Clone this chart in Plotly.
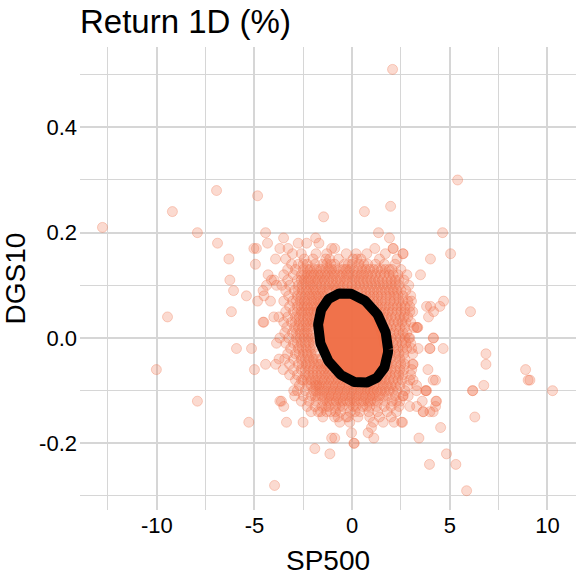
import numpy as np
import plotly.graph_objects as go

# scattered days (SP500 % vs DGS10 change)
sp500_out = [-12.78, -9.20, -6.94, -4.84, -7.92, -6.89, -4.43, -4.33, -5.03, -4.90,
             -6.31, -4.95, -3.92, -3.70, -6.26, -6.07, -5.41, -4.84, -4.30, -4.13,
             -3.99, -4.38, -4.56, -4.51, -4.18, -3.87, -6.18, -9.45, -4.56, -4.52,
             -4.01, -5.92, -5.15, -3.87, -10.02, -5.00, -4.43, -3.91, -3.74, -7.92,
             -3.70, -5.29, -3.97,
             5.40, 4.63, 2.60, 4.01, 5.04, 3.50, 3.04, 4.68, 4.01, 4.17,
             3.91, 6.06, 2.95, 3.33, 3.36, 4.17, 2.95,
             3.98, 3.38, 6.85, 6.85, 8.88, 9.01, 9.10, 10.26, 6.74, 6.16,
             6.18, 3.88, 4.27, 3.76, 3.78, 3.59, 4.32, 4.27, 4.15, 3.64,
             2.95, 6.28, 4.53, 3.42, 2.58, 4.83, 3.96, 5.31, 5.86, 3.12,
             2.07, -1.46, 0.63, 1.97, 1.35, 1.91, -3.51, -1.87, -1.70, -2.76,
             -2.33, -3.28, -1.05, -0.89, 1.16, 2.10,
             -1.91, -1.14, 0.09, 0.11, -1.05, -0.89, -0.03, 0.82, 0.99, 1.11,
             -3.36, -2.51, -3.62, -3.50, -2.99, -2.94, -3.53, -2.59, -1.82,
             1.08, 1.59, 2.15, 2.53, -0.63, -0.12, -1.74, -1.31, -0.72, -0.20,
             2.27, 3.30, 2.27, 2.61, 2.87, 3.12, 3.30, 4.29, 3.98, 3.64,
             3.81, 3.30, 4.15, 3.98, 4.66, 3.30, 4.15, 3.81, 4.49, 2.61, 2.10]
dgs10_out = [0.21, 0.24, 0.28, 0.27, 0.20, 0.18, 0.20, 0.18, 0.17, 0.17,
             0.15, 0.14, 0.15, 0.17, 0.11, 0.09, 0.08, 0.07, 0.12, 0.11,
             0.11, 0.10, 0.09, 0.08, 0.07, 0.10, 0.05, 0.04, 0.03, 0.03,
             0.04, -0.02, -0.02, -0.01, -0.06, -0.06, -0.05, -0.05, -0.04, -0.12,
             -0.12, -0.16, -0.28,
             0.30, 0.20, 0.16, 0.15, 0.16, 0.12, 0.07, 0.07, 0.06, 0.05,
             0.04, 0.05, 0.05, 0.02, 0.02, 0.00, 0.00,
             -0.02, -0.02, -0.03, -0.05, -0.06, -0.08, -0.08, -0.10, -0.09, -0.10,
             -0.10, -0.06, -0.08, -0.10, -0.10, -0.12, -0.12, -0.13, -0.14, -0.14,
             -0.13, -0.15, -0.17, -0.19, -0.16, -0.22, -0.24, -0.24, -0.29, -0.05,
             0.51, 0.23, 0.24, 0.25, 0.20, 0.19, 0.19, 0.19, 0.18, 0.18,
             0.18, 0.17, 0.17, 0.17, 0.17, 0.17,
             -0.21, -0.22, -0.20, -0.20, -0.19, -0.19, -0.18, -0.18, -0.17, -0.19,
             -0.16, -0.16, -0.12, -0.13, -0.10, -0.11, -0.06, -0.08, -0.09,
             -0.16, -0.16, -0.16, -0.16, -0.16, -0.16, -0.14, -0.14, -0.15, -0.15,
             -0.14, -0.13, -0.12, -0.11, -0.11, -0.08, -0.09, -0.12, -0.14, -0.14,
             -0.10, -0.10, -0.08, -0.02, -0.02, 0.02, 0.00, 0.06, 0.06, 0.16, 0.17]

# dense core: DGS10 moves in 0.01 steps, so SP500 values are listed per row
core_dgs10 = [0.16, 0.15, 0.14, 0.13, 0.12, 0.11, 0.10, 0.09, 0.08, 0.07,
              0.06, 0.05, 0.04, 0.03, 0.02, 0.01, 0.00, -0.01, -0.02, -0.03,
              -0.04, -0.05, -0.06, -0.07, -0.08, -0.09, -0.10, -0.11, -0.12, -0.13,
              -0.14, -0.15]
core_sp500_a = [
    [-3.05, -2.6, -1.85, -1.3, -0.3, 0.2, 0.75, 1.7],
    [-3.4, -2.45, -2.0, -1.15, -0.7, 0.05, 0.45, 1.4, 2.3],
    [-3.1, -2.75, -2.3, -1.9, -1.5, -1.1, -0.4, 0.0, 0.35, 0.8, 1.2, 1.65, 2.2],
    [-3.3, -2.9, -2.5, -2.15, -1.8, -1.4, -1.05, -0.65, -0.3, 0.1, 0.5, 0.9, 1.3, 1.7, 2.05, 2.5],
    [-3.5, -3.0, -2.6, -2.3, -1.95, -1.6, -1.25, -0.9, -0.5, -0.15, 0.25, 0.6, 1.0, 1.45, 1.9, 2.35, 2.8],
    [-3.3, -2.8, -2.45, -2.1, -1.75, -1.4, -1.0, -0.6, -0.25, 0.15, 0.55, 0.95, 1.35, 1.8, 2.2, 2.65],
    [-3.6, -3.2, -2.75, -2.35, -2.0, -1.6, -1.2, -0.85, -0.45, 0.0, 0.4, 0.8, 1.2, 1.6, 2.0, 2.4, 2.9],
    [-3.4, -2.95, -2.55, -2.2, -1.85, -1.5, -1.15, -0.8, -0.4, -0.05, 0.3, 0.7, 1.1, 1.5, 1.9, 2.3, 2.75],
    [-3.25, -2.8, -2.4, -2.05, -1.7, -1.35, 0.5, 0.9, 1.3, 1.75, 2.15, 2.6, 3.0],
    [-3.5, -3.05, -2.65, -2.3, -1.95, -1.6, 0.7, 1.1, 1.5, 1.95, 2.4, 2.85],
    [-3.2, -2.8, -2.45, -2.1, -1.8, 0.9, 1.3, 1.7, 2.1, 2.5, 2.95],
    [-3.4, -3.0, -2.6, -2.25, -1.95, 1.05, 1.45, 1.85, 2.3, 2.7, 3.1],
    [-3.75, -3.3, -2.9, -2.5, -2.15, 1.2, 1.6, 2.0, 2.45, 2.85],
    [-3.5, -3.1, -2.7, -2.35, -2.0, 1.3, 1.7, 2.15, 2.55, 3.0],
    [-3.35, -2.95, -2.55, -2.2, 1.4, 1.8, 2.25, 2.7, 3.15],
    [-3.45, -3.05, -2.65, -2.3, 1.5, 1.95, 2.4, 2.8],
    [-3.7, -3.25, -2.85, -2.45, -2.1, 1.6, 2.0, 2.45, 2.9],
    [-3.4, -3.0, -2.6, -2.2, 1.65, 2.1, 2.55, 3.0],
    [-3.15, -2.75, -2.35, -2.0, 1.7, 2.15, 2.6, 3.05],
    [-3.3, -2.9, -2.5, -2.1, 1.75, 2.2, 2.65, 3.1],
    [-3.45, -3.0, -2.6, -2.2, -1.85, 1.75, 2.2, 2.7],
    [-3.2, -2.75, -2.35, -1.95, -1.6, -1.3, 1.8, 2.25, 2.7, 3.1],
    [-3.0, -2.6, -2.2, -1.8, -1.45, -1.1, 1.8, 2.2, 2.65, 3.05],
    [-3.2, -2.8, -2.4, -2.0, -1.6, -1.25, -0.85, 1.75, 2.2, 2.6, 3.0],
    [-2.9, -2.5, -2.1, -1.75, -1.4, -1.05, -0.7, -0.35, 1.3, 1.7, 2.1, 2.55, 2.95],
    [-2.7, -2.3, -1.9, -1.55, -1.2, -0.85, -0.5, -0.15, 0.2, 0.55, 0.9, 1.25, 1.6, 2.0, 2.45, 2.85],
    [-2.8, -2.4, -2.0, -1.65, -1.3, -0.95, -0.6, -0.25, 0.1, 0.45, 0.8, 1.1, 1.5, 1.9, 2.3, 2.7],
    [-2.5, -2.1, -1.75, -1.4, -1.05, -0.7, -0.35, 0.0, 0.35, 0.7, 1.05, 1.4, 1.8, 2.2, 2.6],
    [-2.6, -2.2, -1.85, -1.5, -1.15, -0.8, -0.45, -0.1, 0.25, 0.6, 0.95, 1.3, 1.7, 2.05, 2.45],
    [-2.3, -1.9, -1.55, -1.2, -0.85, -0.5, -0.15, 0.2, 0.55, 0.9, 1.25, 1.65, 2.0, 2.4],
    [-2.1, -1.6, -1.1, -0.6, -0.1, 0.4, 0.85, 1.3, 1.8],
    [-1.5, -0.9, -0.3, 0.3, 0.9, 1.4, 2.0],
]
core_sp500_b = [
    [],
    [-1.35, 0.25],
    [-2.5, -1.3, -0.9, -0.2, 0.6],
    [-2.3, -1.95, -1.6, -1.2, -0.85, -0.45, -0.1, 0.3, 0.7, 1.1, 1.5, 1.9],
    [-2.45, -2.1, -1.75, -1.4, -1.05, -0.7, -0.3, 0.05, 0.45, 0.8, 1.2, 1.65, 2.1],
    [-2.6, -2.25, -1.9, -1.55, -1.2, -0.8, -0.4, 0.0, 0.35, 0.75, 1.15, 1.55, 2.0, 2.4],
    [-2.55, -2.15, -1.8, -1.4, -1.0, -0.65, -0.25, 0.2, 0.6, 1.0, 1.4, 1.8, 2.2],
    [-2.75, -2.35, -2.0, -1.65, -1.3, -0.95, -0.6, -0.2, 0.1, 0.5, 0.9, 1.3, 1.7, 2.1, 2.5],
    [-2.6, -2.2, -1.85, -1.5, 0.7, 1.1, 1.5, 1.95, 2.35],
    [-2.85, -2.45, -2.1, -1.75, -1.45, 0.9, 1.3, 1.7, 2.15, 2.6],
    [-2.6, -2.3, -1.95, -1.6, 1.1, 1.5, 1.9, 2.3, 2.7],
    [-2.8, -2.45, -2.1, -1.8, 1.25, 1.65, 2.05, 2.5],
    [-2.7, -2.3, -1.95, 1.4, 1.8, 2.2, 2.65],
    [-2.9, -2.5, -2.15, -1.85, 1.5, 1.9, 2.35, 2.75],
    [-2.75, -2.35, -2.0, 1.6, 2.0, 2.45],
    [-2.85, -2.45, -2.1, 1.7, 2.15, 2.6],
    [-2.65, -2.25, -1.9, 1.8, 2.25, 2.7],
    [-2.8, -2.4, -2.0, 1.85, 2.3, 2.75],
    [-2.55, -2.15, 1.9, 2.35, 2.8],
    [-2.7, -2.3, -1.9, 1.95, 2.4],
    [-2.4, -2.0, -1.6, 1.95, 2.45],
    [-2.55, -2.15, -1.75, -1.4, 2.0, 2.5],
    [-2.4, -2.0, -1.6, -1.25, 2.0, 2.45],
    [-2.2, -1.8, -1.4, -1.05, -0.7, 1.55, 1.95, 2.4],
    [-2.3, -1.9, -1.55, -1.2, -0.85, -0.5, 1.1, 1.5, 1.9, 2.35],
    [-2.1, -1.7, -1.35, -1.0, -0.65, -0.3, 0.05, 0.4, 0.75, 1.1, 1.45, 1.8, 2.2],
    [-1.85, -1.45, -1.1, -0.75, -0.4, -0.05, 0.3, 0.65, 0.95, 1.3, 1.7, 2.1],
    [-1.9, -1.55, -1.2, -0.85, -0.5, -0.15, 0.2, 0.55, 0.9, 1.25, 1.6],
    [-1.3, -0.95, -0.6, -0.25, 0.1, 0.45, 0.8, 1.15],
    [-1.35, -0.65, 0.05, 0.75],
    [-0.85, 0.15],
    [],
]

# ellipse summary (centre, half extents, correlation)
ell_center = (0.05, 0.0)
ell_half = (1.79, 0.0854)
ell_rho = -0.25

x_ticks = [-10, -5, 0, 5, 10]
x_ticktext = ["-10", "-5", "0", "5", "10"]
y_ticks = [-0.2, 0.0, 0.2, 0.4]
y_ticktext = ["-0.2", "0.0", "0.2", "0.4"]

col = "239,108,68"
font = "Liberation Sans, Arial, sans-serif"

sp_all = list(sp500_out)
dg_all = list(dgs10_out)
for rows in (core_sp500_a, core_sp500_b):
    for yv, row in zip(core_dgs10, rows):
        sp_all += row
        dg_all += [yv] * len(row)

t = np.linspace(0, 2 * np.pi, 240)
ex = ell_center[0] + ell_half[0] * np.cos(t)
ey = ell_center[1] + ell_half[1] * (ell_rho * np.cos(t) + np.sqrt(1 - ell_rho ** 2) * np.sin(t))

fig = go.Figure()
fig.add_trace(go.Scatter(x=sp_all, y=dg_all, mode="markers",
                         marker=dict(size=10, color="rgba(%s,0.25)" % col,
                                     line=dict(color="rgba(%s,0.3)" % col, width=1)),
                         hoverinfo="skip", showlegend=False))
fig.add_trace(go.Scatter(x=ex, y=ey, mode="lines", fill="toself",
                         fillcolor="rgba(%s,0.96)" % col,
                         line=dict(color="black", width=10),
                         hoverinfo="skip", showlegend=False))

grid = "#D6D6D6"
fig.update_layout(
    width=576, height=576,
    margin=dict(l=80, r=0, t=47, b=66, autoexpand=False),
    plot_bgcolor="white", paper_bgcolor="white",
    font=dict(family=font, color="black"),
    title=dict(text="Return 1D (%)", x=0, xref="paper", xanchor="left",
               y=0.982, yref="container", yanchor="top", automargin=False,
               font=dict(size=33, family=font, color="black")),
)
fig.update_xaxes(range=[-13.93, 11.46], tickvals=x_ticks, ticktext=x_ticktext,
                 showgrid=True, gridcolor=grid, gridwidth=1.8, zeroline=False,
                 showline=False, ticks="", tickfont=dict(size=22), automargin=False,
                 minor=dict(dtick=2.5, tick0=0, showgrid=True, gridcolor=grid, gridwidth=0.9),
                 title=dict(text="SP500", font=dict(size=28)))
fig.update_yaxes(range=[-0.3266, 0.5525], tickvals=y_ticks, ticktext=y_ticktext,
                 showgrid=True, gridcolor=grid, gridwidth=1.8, zeroline=False,
                 showline=False, ticks="", tickfont=dict(size=22), automargin=False,
                 ticklabelstandoff=2,
                 minor=dict(dtick=0.1, tick0=0, showgrid=True, gridcolor=grid, gridwidth=0.9),
                 title=dict(text="DGS10", font=dict(size=28)))

# drop the page's default body margin so the figure sits at the window's corner
fig.write_html("out.html", config={"displayModeBar": False},
               post_script="document.body.style.margin='0px';")
